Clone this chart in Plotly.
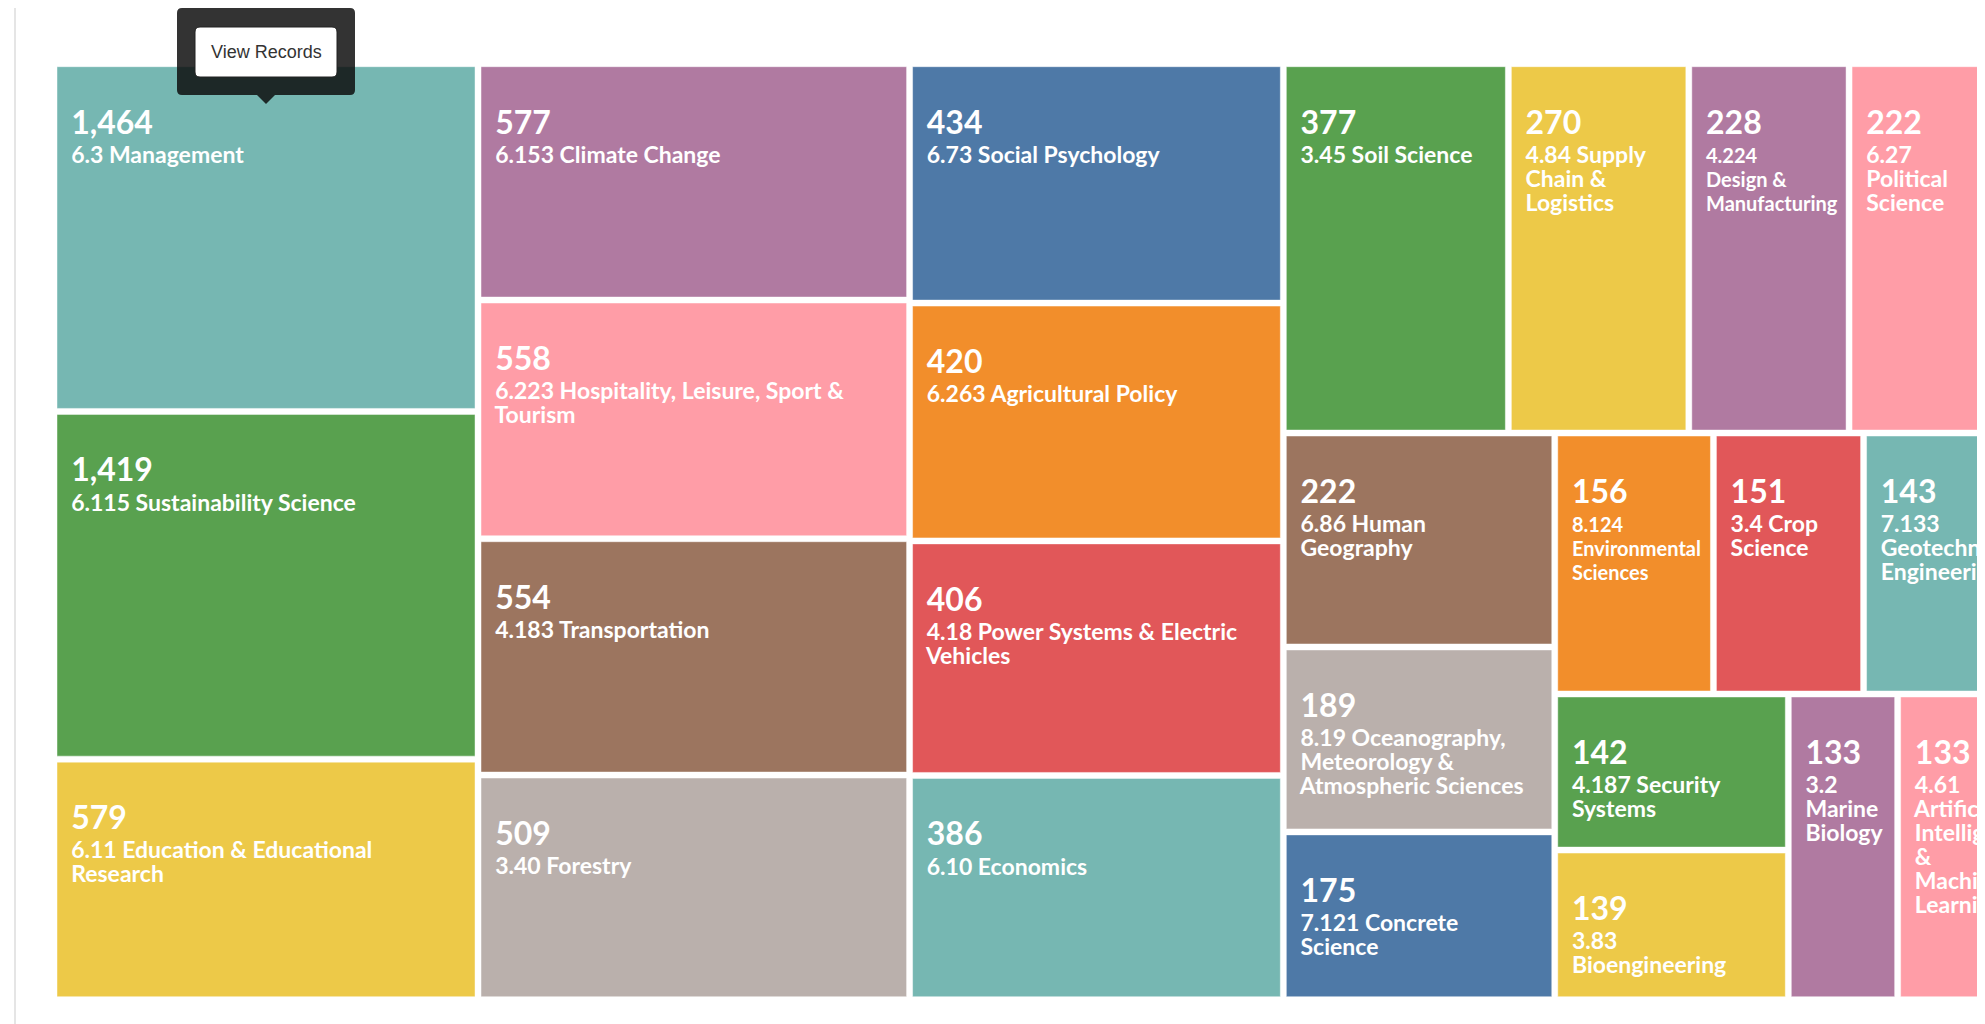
import plotly.graph_objects as go

# figure is slightly wider than the window: the reference treemap runs past the right edge
W, H = 2000, 1024

counts = [1464, 1419, 579, 577, 558, 554, 509, 434, 420, 406, 386, 377, 270, 228,
          222, 222, 189, 175, 156, 151, 143, 142, 139, 133, 133]
codes = ["6.3", "6.115", "6.11", "6.153", "6.223", "4.183", "3.40", "6.73", "6.263",
         "4.18", "6.10", "3.45", "4.84", "4.224", "6.27", "6.86", "8.19", "7.121",
         "8.124", "3.4", "7.133", "4.187", "3.83", "3.2", "4.61"]
# label lines as wrapped in the reference
name_lines = [
    ["Management"],
    ["Sustainability Science"],
    ["Education & Educational", "Research"],
    ["Climate Change"],
    ["Hospitality, Leisure, Sport &", "Tourism"],
    ["Transportation"],
    ["Forestry"],
    ["Social Psychology"],
    ["Agricultural Policy"],
    ["Power Systems & Electric", "Vehicles"],
    ["Economics"],
    ["Soil Science"],
    ["Supply", "Chain &", "Logistics"],
    ["", "Design &", "Manufacturing"],
    ["", "Political", "Science"],
    ["Human", "Geography"],
    ["Oceanography,", "Meteorology &", "Atmospheric Sciences"],
    ["Concrete", "Science"],
    ["", "Environmental", "Sciences"],
    ["Crop", "Science"],
    ["", "Geotechnical", "Engineering"],
    ["Security", "Systems"],
    ["", "Bioengineering"],
    ["", "Marine", "Biology"],
    ["", "Artificial", "Intelligence", "&", "Machine", "Learning"],
]
# relative tile areas as measured on the reference picture (thousand px^2)
tile_area = [146, 146, 101, 101, 102, 101, 96, 88.6, 88, 86.8, 83, 82.3, 66, 58.6,
             57.4, 57.5, 49.7, 45.1, 41, 38.8, 36.8, 36.1, 34.6, 33.1, 32.8]
palette = ["#76B7B2", "#59A14F", "#EDC948", "#B07AA1", "#FF9DA7",
           "#9C755F", "#BAB0AC", "#4E79A7", "#F28E2B", "#E15759"]

# styling
COUNT_PX = 32
NAME_PX = 23
NAME_PX_NARROW = {"4.224": 20, "8.124": 20}   # long words in narrow tiles
TOP_SPACER_PX = 46
COUNT_RAISE = 5

ids = [f"{c} {'_'.join(n)}" for c, n in zip(codes, name_lines)]
colors = [palette[i % len(palette)] for i in range(len(counts))]

IND = "<span style='font-size:23px'>&nbsp;&nbsp;</span>"
texts = []
for cnt, code, lines in zip(counts, codes, name_lines):
    nsz = NAME_PX_NARROW.get(code, NAME_PX)
    first = (code + " " + lines[0]) if lines[0] else code
    body = [first] + lines[1:]
    name_html = "<br>".join(IND + f"<span style='font-size:{nsz}px'>" + l + "</span>" for l in body)
    texts.append(f"<span style='font-size:{TOP_SPACER_PX}px'>&nbsp;</span><br>"
                 + IND
                 + f"<span style='font-size:{COUNT_PX}px;baseline-shift:{COUNT_RAISE}px'>"
                 + f"{cnt:,}" + "</span><br>"
                 + name_html)

# page offset of 8px (body margin) -> figure coordinates
OFF = 8
tx0, tx1 = 57 - OFF, 2003 - OFF
ty0, ty1 = 66.7 - OFF, 996.7 - OFF

BASE = 18.5

fig = go.Figure(go.Treemap(
    ids=ids,
    labels=ids,
    parents=[""] * len(ids),
    values=tile_area,
    text=texts,
    textinfo="text",
    sort=False,
    textposition="top left",
    textfont=dict(family="Lato", size=BASE, color="white", weight="bold"),
    marker=dict(colors=colors, line=dict(width=1, color="rgba(255,255,255,0.45)"),
                pad=dict(t=0, l=0, r=0, b=0)),
    tiling=dict(packing="squarify", squarifyratio=1.618034, pad=6),
    pathbar=dict(visible=False),
    hoverinfo="skip",
    domain=dict(x=[tx0 / W, tx1 / W], y=[1 - ty1 / H, 1 - ty0 / H]),
))


def px(x):
    return (x - OFF) / W


def py(y):
    return 1 - (y - OFF) / H


def rrect(xa, ya, xb, yb, r):
    return (f"M {px(xa + r)} {py(ya)} L {px(xb - r)} {py(ya)} Q {px(xb)} {py(ya)} {px(xb)} {py(ya + r)} "
            f"L {px(xb)} {py(yb - r)} Q {px(xb)} {py(yb)} {px(xb - r)} {py(yb)} "
            f"L {px(xa + r)} {py(yb)} Q {px(xa)} {py(yb)} {px(xa)} {py(yb - r)} "
            f"L {px(xa)} {py(ya + r)} Q {px(xa)} {py(ya)} {px(xa + r)} {py(ya)} Z")


shapes = [
    dict(type="line", xref="paper", yref="paper", x0=px(15), x1=px(15), y0=py(8), y1=py(1032),
         line=dict(color="#dddddd", width=1.5)),
    dict(type="path", xref="paper", yref="paper", path=rrect(177, 8, 355, 95, 5),
         fillcolor="rgba(12,12,12,0.84)", line=dict(width=0)),
    dict(type="path", xref="paper", yref="paper",
         path=f"M {px(257)} {py(95)} L {px(275)} {py(95)} L {px(266)} {py(104)} Z",
         fillcolor="rgba(12,12,12,0.84)", line=dict(width=0)),
    dict(type="path", xref="paper", yref="paper", path=rrect(195, 27, 337, 77, 5),
         fillcolor="white", line=dict(color="#222222", width=1)),
]

fig.update_layout(
    width=W, height=H,
    margin=dict(l=0, r=0, t=0, b=0),
    paper_bgcolor="white",
    uniformtext=dict(minsize=BASE, mode="show"),
    shapes=shapes,
    annotations=[dict(xref="paper", yref="paper", x=px(266), y=py(52), text="View Records",
                      showarrow=False, xanchor="center", yanchor="middle",
                      font=dict(family="Liberation Sans, Arial", size=18, color="#333333"))],
)

fig.write_html("out.html")
